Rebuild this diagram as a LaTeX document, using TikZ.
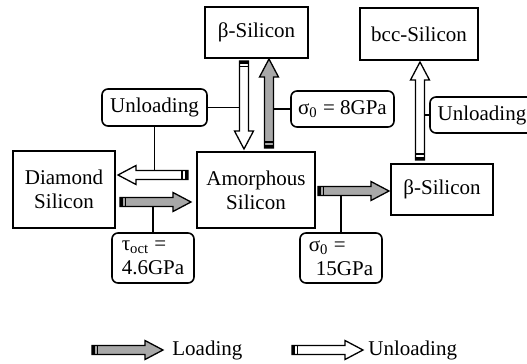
\documentclass[tikz,border=0pt]{standalone}
\usepackage{fontspec}
\setmainfont{Liberation Serif}
\usetikzlibrary{calc}
\definecolor{loadgray}{gray}{0.66}
% fat arrow with striped tail: fill, from, to
\newcommand{\fatarrow}[3]{%
  \coordinate (fa-h) at ($(#3)!9pt!(#2)$);
  \filldraw[fill=#1, line width=0.65pt, line join=miter]
    ($(#2)!2.25pt!90:(#3)$) -- ($(fa-h)!2.25pt!90:(#3)$) -- ($(fa-h)!4.75pt!90:(#3)$)
    -- (#3) -- ($(fa-h)!4.75pt!-90:(#3)$) -- ($(fa-h)!2.25pt!-90:(#3)$)
    -- ($(#2)!2.25pt!-90:(#3)$) -- cycle;
  \draw[line width=5.15pt] (#2) -- ($(#2)!1.5pt!(#3)$);
  \draw[line width=5.15pt] ($(#2)!2.5pt!(#3)$) -- ($(#2)!3.25pt!(#3)$);
}

\begin{document}
\begin{tikzpicture}[x=0.5pt, y=-0.5pt,
    every node/.style={font=\fontsize{10.5}{12}\selectfont},
    phase/.style={draw, line width=0.8pt, inner sep=1pt, align=center},
    tag/.style={phase, rounded corners=3pt},
    link/.style={line width=0.8pt}]
  \clip (0,0) rectangle (527,364);

  % phases
  \node[phase, minimum width=51.5pt, minimum height=25.5pt] (btop) at (256.5,32.5) {β-Silicon};
  \node[phase, minimum width=59pt, minimum height=26pt] (bcc) at (419,34) {bcc-Silicon};
  \node[phase, minimum width=51pt, minimum height=38.5pt] (dia) at (64,189.5) {Diamond\\Silicon};
  \node[phase, minimum width=59pt, minimum height=38pt] (amo) at (256,190) {Amorphous\\Silicon};
  \node[phase, minimum width=51pt, minimum height=25.5pt] (bright) at (442,189.5) {β-Silicon};

  % conditions
  \node[tag, minimum width=52.5pt, minimum height=18.5pt] (unl1) at (154.5,107.5) {Unloading};
  \node[tag, minimum width=51.5pt, minimum height=18pt] (sig8) at (342.5,109) {σ\textsubscript{0} = 8GPa};
  \node[tag, minimum width=52pt, minimum height=18pt] (unl2) at (482,115) {Unloading};
  \node[tag, align=left, minimum width=41pt, minimum height=25pt] (tau) at (153,258) {τ\textsubscript{oct} =\\4.6GPa};
  \node[tag, align=left, minimum width=41pt, minimum height=25pt] (sig15) at (341,258) {σ\textsubscript{0} =\\\,\,15GPa};

  % arrow ends
  \coordinate (a1s) at (244,61);    \coordinate (a1e) at (244,149);
  \coordinate (a2s) at (269,148);   \coordinate (a2e) at (269,59);
  \coordinate (a3s) at (188,175);   \coordinate (a3e) at (118,175);
  \coordinate (a4s) at (120,202);   \coordinate (a4e) at (191,202);
  \coordinate (a5s) at (318,191);   \coordinate (a5e) at (389,191);
  \coordinate (a6s) at (420,160);   \coordinate (a6e) at (420,62);

  % links from conditions to arrows
  \draw[link] (unl1.east) -- ($(a1s)!(unl1.east)!(a1e)$);
  \draw[link] (unl1.south) -- ($(a3s)!(unl1.south)!(a3e)$);
  \draw[link] (sig8.west) -- ($(a2s)!(sig8.west)!(a2e)$);
  \draw[link] (unl2.west) -- ($(a6s)!(unl2.west)!(a6e)$);
  \draw[link] (tau.north) -- ($(a4s)!(tau.north)!(a4e)$);
  \draw[link] (sig15.north) -- ($(a5s)!(sig15.north)!(a5e)$);

  \fatarrow{white}{a1s}{a1e}
  \fatarrow{loadgray}{a2s}{a2e}
  \fatarrow{white}{a3s}{a3e}
  \fatarrow{loadgray}{a4s}{a4e}
  \fatarrow{loadgray}{a5s}{a5e}
  \fatarrow{white}{a6s}{a6e}

  % legend
  \coordinate (k1s) at (92,350);  \coordinate (k1e) at (163,350);
  \coordinate (k2s) at (292,350); \coordinate (k2e) at (363,350);
  \fatarrow{loadgray}{k1s}{k1e}
  \fatarrow{white}{k2s}{k2e}
  \node[anchor=west, inner sep=1pt] (kload) at (170,350) {Loading};
  \node[anchor=west, inner sep=1pt] (kunload) at (366,350) {Unloading};
\end{tikzpicture}
\end{document}
